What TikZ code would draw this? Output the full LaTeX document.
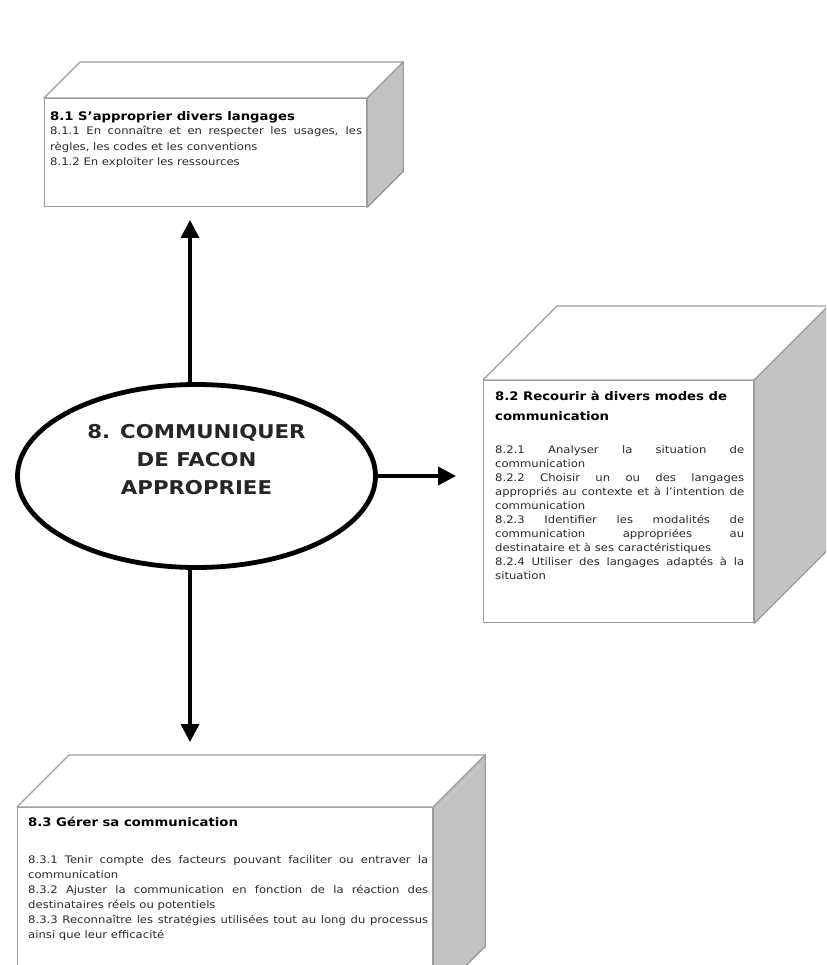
\documentclass[tikz,border=0pt]{standalone}
\usepackage{fontspec}
\setmainfont{DejaVu Sans}[FakeStretch=1.12]
\usetikzlibrary{shapes.geometric,arrows.meta,calc}
\definecolor{edgegray}{HTML}{9C9C9C}
\definecolor{sidegray}{HTML}{C2C2C2}
\definecolor{txtgray}{HTML}{2A2A2A}
\newcommand\cubefaces[2]{%
  \draw[topface] (#1.north west) -- ++(#2,-#2) -- ($(#1.north east)+(#2,-#2)$) -- (#1.north east) -- cycle;
  \draw[sideface] (#1.north east) -- ++(#2,-#2) -- ($(#1.south east)+(#2,-#2)$) -- (#1.south east) -- cycle;}
\newcommand\bodyfont[1]{\fontsize{10.4}{#1}\selectfont\color{txtgray}}
\newcommand\titlefont{\fontsize{11.8}{19.5}\selectfont\bfseries\color{black}}
\begin{document}
\begin{tikzpicture}[x=1pt,y=-1pt,
  frontface/.style={draw=edgegray,line width=1.3pt,fill=white,inner sep=0pt,anchor=north west},
  topface/.style={draw=edgegray,line width=1.3pt,fill=white,line join=round},
  sideface/.style={draw=edgegray,line width=1.3pt,fill=sidegray,line join=round},
  boxtext/.style={anchor=north west,inner sep=0pt},
  arr/.style={line width=3.5pt,-{Triangle[width=18pt,length=18pt]}},
  ctext/.style={align=center,font=\fontsize{19}{28}\selectfont\bfseries,text=black!85}]
\clip (0,0) rectangle (826,965);
\fill[white] (0,0) rectangle (826,965);

% --- box 8.1
\node[frontface,minimum width=322pt,minimum height=108pt] (b1) at (44,98) {};
\cubefaces{b1}{36}
\node[boxtext] (t1) at ($(b1.north west)+(6,13)$) {\parbox[t]{312pt}{%
  {\titlefont 8.1 S'approprier divers langages\par}\vspace{-1pt}
  \bodyfont{15.5}
  8.1.1 En connaître et en respecter les usages, les\linebreak
  règles, les codes et les conventions\par
  8.1.2 En exploiter les ressources}};

% --- box 8.2
\node[frontface,minimum width=270pt,minimum height=242pt] (b2) at (483,380) {};
\cubefaces{b2}{74}
\node[boxtext] (t2) at ($(b2.north west)+(12,11)$) {\parbox[t]{249pt}{%
  {\titlefont 8.2 Recourir à divers modes de\newline communication\par}\vspace{19pt}
  \bodyfont{14}
  8.2.1 Analyser la situation de\linebreak communication\par
  8.2.2 Choisir un ou des langages\linebreak appropriés au contexte et à l'intention de\linebreak communication\par
  8.2.3 Identifier les modalités de\linebreak communication appropriées au\linebreak destinataire et à ses caractéristiques\par
  8.2.4 Utiliser des langages adaptés à la\linebreak situation}};

% --- box 8.3
\node[frontface,minimum width=415pt,minimum height=190pt] (b3) at (17,807) {};
\cubefaces{b3}{52}
\node[boxtext] (t3) at ($(b3.north west)+(11,10)$) {\parbox[t]{400pt}{%
  {\titlefont 8.3 Gérer sa communication\par}\vspace{22pt}
  \bodyfont{15}
  8.3.1 Tenir compte des facteurs pouvant faciliter ou entraver la\linebreak communication\par
  8.3.2 Ajuster la communication en fonction de la réaction des\linebreak destinataires réels ou potentiels\par
  8.3.3 Reconnaître les stratégies utilisées tout au long du processus\linebreak ainsi que leur efficacité}};

% --- central ellipse
\node[draw=black,ellipse,line width=4.8pt,fill=white,minimum width=358pt,minimum height=183pt,inner sep=0pt] (ell) at (196.5,476) {};
\node[ctext] (etxt) at (196.5,460) {8. COMMUNIQUER\\DE FACON\\APPROPRIEE};

% --- connectors
\coordinate (upend) at (190,220);
\coordinate (rightend) at (456,476);
\coordinate (downend) at (190,742);
\draw[arr] (ell.north -| upend) -- (upend);
\draw[arr] (ell.east) -- (rightend);
\draw[arr] (ell.south -| downend) -- (downend);
\end{tikzpicture}
\end{document}
